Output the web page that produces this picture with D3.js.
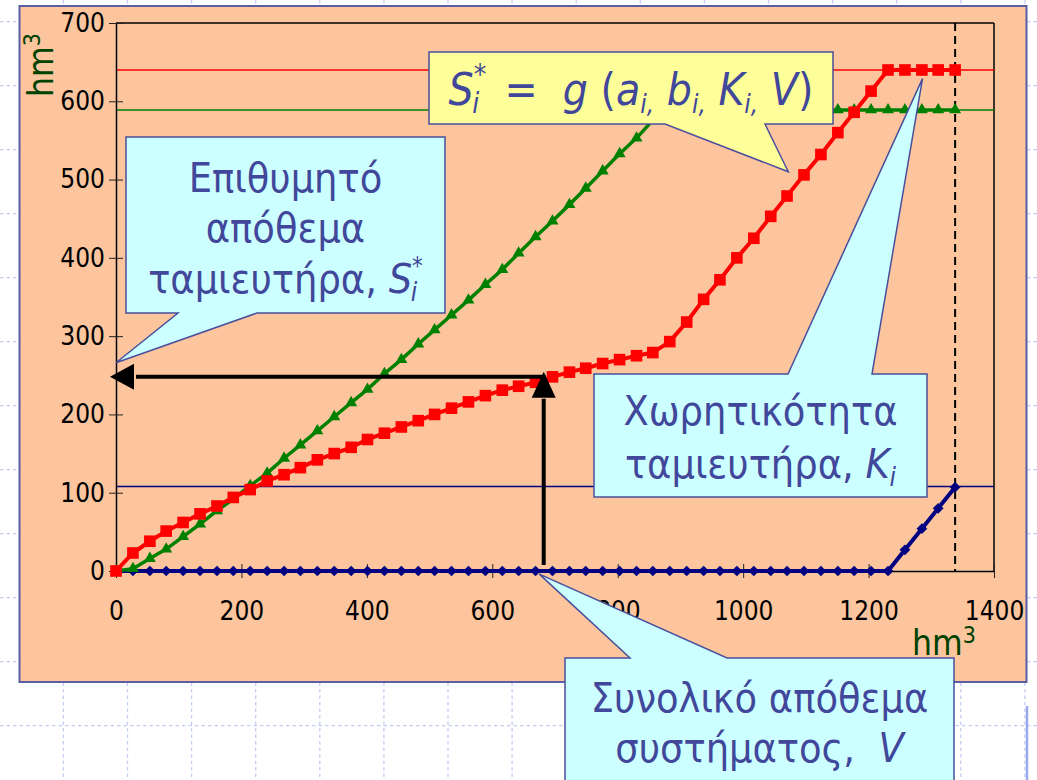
<!DOCTYPE html>
<html>
<head>
<meta charset="utf-8">
<script src="https://cdn.jsdelivr.net/npm/d3@7"></script>
<style>
    body { margin: 0; background: #fff; }
    svg { display: block; font-family: "DejaVu Sans Condensed", "DejaVu Sans", sans-serif; font-stretch: condensed; }
    text { white-space: pre; }
</style>
</head>
<body>
<svg id="chart" width="1037" height="780"></svg>
<script>
// total system storage V (hm3), one value per computed point
var volume = [0, 27, 54, 80, 107, 134, 161, 187, 214, 241, 268, 294, 321, 348, 375, 401, 428, 455, 482, 508,
    535, 562, 589, 616, 642, 669, 696, 723, 749, 776, 803, 830, 856, 883, 910, 937, 963, 990, 1017, 1044,
    1070, 1097, 1124, 1151, 1177, 1204, 1231, 1258, 1285, 1311, 1338];

// desired storage of each reservoir S*_i
var storageRed = [0, 23, 38, 51, 62, 73, 83, 94, 104, 115, 123, 132, 142, 150, 158, 168, 176, 184, 192, 200,
    208, 216, 224, 231, 236, 241, 248, 254, 259, 265, 270, 275, 279, 293, 318, 347, 372, 400, 425, 453,
    479, 506, 532, 560, 586, 613, 640, 640, 640, 640, 640];
var storageGreen = [0, 3, 16, 28, 44, 60, 77, 92, 109, 125, 144, 161, 179, 197, 215, 232, 252, 270, 290, 308,
    327, 346, 366, 385, 406, 427, 447, 468, 489, 511, 533, 553, 576, 589, 589, 589, 589, 589, 589, 589,
    589, 589, 589, 589, 589, 589, 589, 589, 589, 589, 589];
var storageBlue = [0, 0, 0, 0, 0, 0, 0, 0, 0, 0, 0, 0, 0, 0, 0, 0, 0, 0, 0, 0,
    0, 0, 0, 0, 0, 0, 0, 0, 0, 0, 0, 0, 0, 0, 0, 0, 0, 0, 0, 0,
    0, 0, 0, 0, 0, 0, 0, 27, 54, 80, 107];

// capacities K_i
var capacityNames = ['red', 'green', 'blue'];
var capacityValues = [640, 589, 108];
var totalVolume = 1338;

var xTicks = [0, 200, 400, 600, 800, 1000, 1200, 1400];
var yTicks = [0, 100, 200, 300, 400, 500, 600, 700];

// annotation arrow: read S* off the curve for a given V
var arrowV = 682, arrowS = 248;

var colors = { red: '#ff0000', green: '#008000', blue: '#000080' };
var textColor = '#41479a';

var svg = d3.select('#chart');

//// slide background: dotted guide grid
var bg = svg.append('g');
d3.range(16).forEach(function (i) {
    bg.append('line')
        .attr('x1', 63.4 + i * 64.1).attr('x2', 63.4 + i * 64.1)
        .attr('y1', 0).attr('y2', 780);
});
d3.range(12).forEach(function (j) {
    bg.append('line')
        .attr('x1', 0).attr('x2', 1037)
        .attr('y1', 21.7 + j * 64).attr('y2', 21.7 + j * 64);
});
bg.selectAll('line')
    .attr('stroke', '#c4cdf3')
    .attr('stroke-width', 1.3)
    .attr('stroke-dasharray', '3.5,3');
svg.append('line')
    .attr('x1', 1027).attr('x2', 1027).attr('y1', 706).attr('y2', 780)
    .attr('stroke', '#9aa9ef').attr('stroke-width', 2.5);

//// chart panel
svg.append('rect')
    .attr('x', 19.5).attr('y', 6).attr('width', 1007).attr('height', 676)
    .attr('fill', '#fcc59d')
    .attr('stroke', '#5a5ea4').attr('stroke-width', 2);

var x = d3.scaleLinear().domain([0, 1400]).range([116, 994]);
var y = d3.scaleLinear().domain([0, 700]).range([571, 23]);

var g = svg.append('g');

//// frame (top and right)
g.append('line').attr('x1', x(0)).attr('x2', x(1400)).attr('y1', y(700)).attr('y2', y(700))
    .attr('stroke', '#000').attr('stroke-width', 1.5);
g.append('line').attr('x1', x(1400)).attr('x2', x(1400)).attr('y1', y(700)).attr('y2', y(0))
    .attr('stroke', '#000').attr('stroke-width', 1.5);

//// capacity lines
capacityNames.forEach(function (name, i) {
    g.append('line')
        .attr('x1', x(0)).attr('x2', x(1400))
        .attr('y1', y(capacityValues[i])).attr('y2', y(capacityValues[i]))
        .attr('stroke', colors[name]).attr('stroke-width', 1.5);
});

//// total volume marker
g.append('line')
    .attr('x1', x(totalVolume)).attr('x2', x(totalVolume))
    .attr('y1', y(700)).attr('y2', y(0))
    .attr('stroke', '#000').attr('stroke-width', 2).attr('stroke-dasharray', '8,5');

//// axes
function customYAxis(sel) {
    sel.call(d3.axisLeft(y).tickValues(yTicks).tickFormat(d3.format('d')).tickSize(7).tickSizeOuter(0).tickPadding(4));
    sel.attr('font-family', null);
    sel.select('.domain').attr('stroke', '#000').attr('stroke-width', 1.5);
    sel.selectAll('.tick line').attr('x1', -7).attr('x2', 7).attr('stroke', '#222');
    sel.selectAll('.tick text').attr('font-size', 26).attr('fill', '#000');
}
function customXAxis(sel) {
    sel.call(d3.axisBottom(x).tickValues(xTicks).tickFormat(d3.format('d')).tickSize(7).tickSizeOuter(0).tickPadding(24));
    sel.attr('font-family', null);
    sel.select('.domain').attr('stroke', '#000').attr('stroke-width', 1.5);
    sel.selectAll('.tick line').attr('y1', -7).attr('y2', 7).attr('stroke', '#222');
    sel.selectAll('.tick text').attr('font-size', 26).attr('fill', '#000');
}
g.append('g').attr('transform', 'translate(' + x(0) + ',0)').call(customYAxis);
g.append('g').attr('transform', 'translate(0,' + y(0) + ')').call(customXAxis);

//// axis titles
var yTitle = g.append('text')
    .attr('transform', 'translate(53,97) rotate(-90)')
    .attr('font-size', 35).attr('fill', '#004200');
yTitle.append('tspan').text('hm');
yTitle.append('tspan').attr('font-size', 23).attr('dy', -13).text('3');

var xTitle = g.append('text')
    .attr('x', 912).attr('y', 655)
    .attr('font-size', 35).attr('fill', '#004200');
xTitle.append('tspan').text('hm');
xTitle.append('tspan').attr('font-size', 23).attr('dy', -12).text('3');

//// series
var diamond = {
    draw: function (ctx, size) {
        var r = Math.sqrt(size) / 2;
        ctx.moveTo(0, -r); ctx.lineTo(r, 0); ctx.lineTo(0, r); ctx.lineTo(-r, 0); ctx.closePath();
    }
};
var series = [
    { name: 'blue', values: storageBlue, symbol: diamond, size: 115, width: 4 },
    { name: 'green', values: storageGreen, symbol: d3.symbolTriangle, size: 62, width: 3.5 },
    { name: 'red', values: storageRed, symbol: d3.symbolSquare, size: 135, width: 4 }
];

var line = d3.line()
    .x(function (d, i) { return x(volume[i]); })
    .y(function (d) { return y(d); });

series.forEach(function (s) {
    var sg = g.append('g');
    sg.append('path')
        .attr('d', line(s.values))
        .attr('fill', 'none')
        .attr('stroke', colors[s.name])
        .attr('stroke-width', s.width)
        .attr('stroke-linejoin', 'round');
    sg.selectAll('path.marker')
        .data(s.values)
        .enter()
        .append('path')
        .attr('class', 'marker')
        .attr('d', d3.symbol().type(s.symbol).size(s.size))
        .attr('transform', function (d, i) { return 'translate(' + x(volume[i]) + ',' + y(d) + ')'; })
        .attr('fill', colors[s.name]);
});

//// arrows
var ax = x(arrowV), ay = y(arrowS);
g.append('line').attr('x1', ax).attr('x2', ax).attr('y1', y(0) - 6).attr('y2', ay + 22)
    .attr('stroke', '#000').attr('stroke-width', 4);
g.append('path').attr('d', d3.line()([[ax, ay - 5], [ax - 12, ay + 21], [ax + 12, ay + 21]]) + 'Z').attr('fill', '#000');
g.append('line').attr('x1', ax + 2).attr('x2', x(0) + 20).attr('y1', ay).attr('y2', ay)
    .attr('stroke', '#000').attr('stroke-width', 4);
g.append('path').attr('d', d3.line()([[x(0) - 6, ay], [x(0) + 18, ay - 13], [x(0) + 18, ay + 13]]) + 'Z').attr('fill', '#000');

//// callouts
function callout(pts, fill) {
    svg.append('path')
        .attr('d', d3.line()(pts) + 'Z')
        .attr('fill', fill)
        .attr('stroke', '#4a4f9c')
        .attr('stroke-width', 1.5);
}
function richText(cx, base, size, parts) {
    var t = svg.append('text')
        .attr('x', cx).attr('y', base)
        .attr('text-anchor', 'middle')
        .attr('font-size', size)
        .attr('fill', textColor);
    parts.forEach(function (p) {
        var s = t.append('tspan').text(p.t);
        if (p.it) s.attr('font-style', 'italic');
        if (p.fs) s.attr('font-size', p.fs);
        if (p.dx) s.attr('dx', p.dx);
        if (p.dy) s.attr('dy', p.dy);
    });
}

var tip1 = [x(0), y(266)];
callout([[126, 137], [445, 137], [445, 313], [257, 313], tip1, [178, 313], [126, 313]], '#ccffff');
richText(285.5, 192, 41, [{ t: 'Επιθυμητό' }]);
richText(285.5, 242, 41, [{ t: 'απόθεμα' }]);
richText(285.5, 293, 41, [{ t: 'ταμιευτήρα, ' }, { t: 'S', it: 1 }, { t: '*', fs: 24, dy: -19 }, { t: 'i', it: 1, fs: 26, dx: -12, dy: 27 }]);

var tip2 = [x(1072), y(510)];
callout([[429, 52], [833, 52], [833, 124], [765, 124], tip2, [665, 124], [429, 124]], '#ffff99');
richText(631, 105, 44, [
    { t: 'S', it: 1 }, { t: '*', fs: 28, dy: -21 }, { t: 'i', it: 1, fs: 28, dx: -14, dy: 29 },
    { t: '  =  ', dy: -8 }, { t: 'g', it: 1 }, { t: ' (' },
    { t: 'a', it: 1 }, { t: 'i,', it: 1, fs: 26, dy: 8 }, { t: ' ', dy: -8 },
    { t: 'b', it: 1 }, { t: 'i,', it: 1, fs: 26, dy: 8 }, { t: ' ', dy: -8 },
    { t: 'K', it: 1 }, { t: 'i,', it: 1, fs: 26, dy: 8 }, { t: ' ', dy: -8 },
    { t: 'V', it: 1 }, { t: ')' }
]);

var tip3 = [x(1286), y(629)];
callout([[594, 374], [788, 374], tip3, [872, 374], [927, 374], [927, 497], [594, 497]], '#ccffff');
richText(760.5, 425, 41, [{ t: 'Χωρητικότητα' }]);
richText(760.5, 478, 41, [{ t: 'ταμιευτήρα, ' }, { t: 'K', it: 1 }, { t: 'i', it: 1, fs: 26, dy: 8 }]);

var tip4 = [x(675), y(-4)];
callout([[565, 658], [630, 658], tip4, [727, 658], [954, 658], [954, 800], [565, 800]], '#ccffff');
richText(759.5, 712, 41, [{ t: 'Συνολικό απόθεμα' }]);
richText(759.5, 762, 41, [{ t: 'συστήματος,  ' }, { t: 'V', it: 1 }]);
</script>
</body>
</html>
